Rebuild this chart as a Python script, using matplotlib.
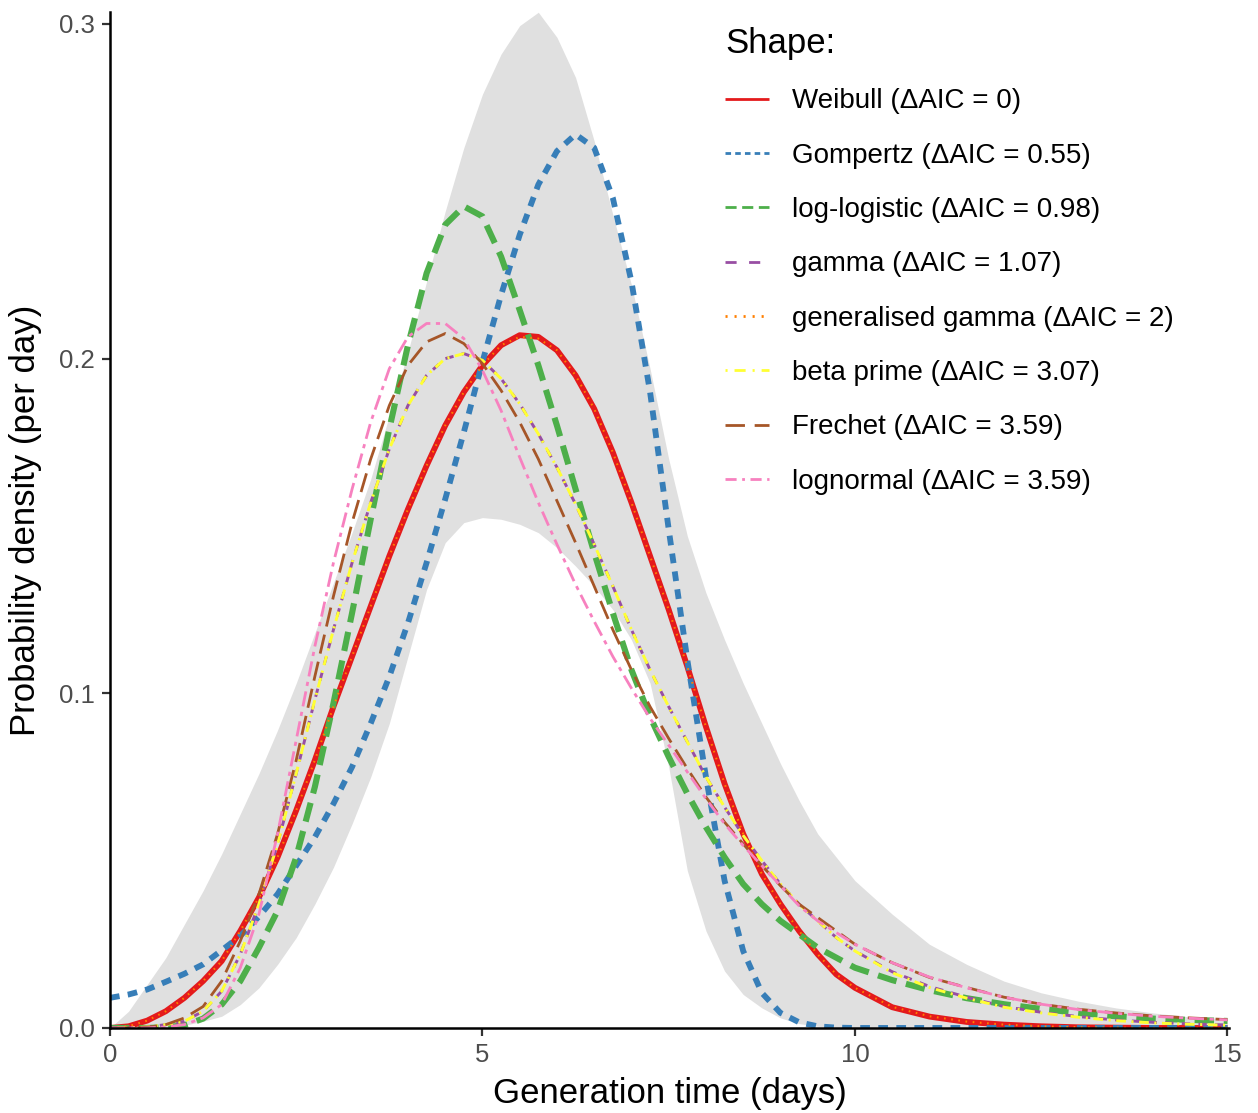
import matplotlib
matplotlib.use("Agg")
import matplotlib.pyplot as plt
from matplotlib.lines import Line2D
import numpy as np

plt.rcParams['font.family'] = ['Liberation Sans', 'DejaVu Sans']
plt.rcParams['lines.scale_dashes'] = False

# generation time grid (days)
t = [0, 0.25, 0.5, 0.75, 1, 1.25, 1.5, 1.75, 2, 2.25, 2.5, 2.75, 3, 3.25, 3.5, 3.75,
     4, 4.25, 4.5, 4.75, 5, 5.25, 5.5, 5.75, 6, 6.25, 6.5, 6.75, 7, 7.25, 7.5, 7.75,
     8, 8.25, 8.5, 8.75, 9, 9.25, 9.5, 9.75, 10, 10.5, 11, 11.5, 12, 12.5, 13, 13.5,
     14, 14.5, 15]

weibull = [0, 0.0005, 0.0022, 0.005, 0.009, 0.014, 0.020, 0.029, 0.039, 0.051, 0.065, 0.080,
           0.096, 0.111, 0.126, 0.141, 0.155, 0.168, 0.180, 0.190, 0.198, 0.204, 0.207, 0.2065,
           0.2025, 0.195, 0.185, 0.172, 0.157, 0.141, 0.125, 0.108, 0.090, 0.073, 0.058, 0.046,
           0.037, 0.029, 0.022, 0.016, 0.012, 0.0062, 0.0034, 0.0018, 0.001, 0.0005, 0.0002,
           0.0001, 0, 0, 0]
gompertz = [0.009, 0.010, 0.0115, 0.0138, 0.0162, 0.019, 0.0232, 0.0275, 0.0333, 0.040, 0.0485,
            0.057, 0.067, 0.078, 0.091, 0.105, 0.121, 0.139, 0.158, 0.178, 0.199, 0.219, 0.237,
            0.252, 0.262, 0.267, 0.263, 0.248, 0.223, 0.190, 0.149, 0.110, 0.075, 0.044, 0.023,
            0.0105, 0.0045, 0.0017, 0.0005, 0.0001, 0, 0, 0, 0, 0, 0, 0, 0, 0, 0, 0]
loglogistic = [0, 0, 0, 0.0002, 0.0008, 0.0028, 0.007, 0.014, 0.024, 0.035, 0.051, 0.072, 0.097,
               0.124, 0.152, 0.179, 0.204, 0.2255, 0.240, 0.2455, 0.2425, 0.2305, 0.2145, 0.198,
               0.180, 0.161, 0.142, 0.124, 0.107, 0.093, 0.081, 0.070, 0.060, 0.051, 0.043, 0.037,
               0.032, 0.028, 0.024, 0.021, 0.018, 0.0143, 0.0113, 0.0089, 0.0071, 0.0057, 0.0045,
               0.0035, 0.0028, 0.0024, 0.0021]
gamma = [0, 0, 0.0003, 0.001, 0.002, 0.005, 0.011, 0.022, 0.037, 0.055, 0.076, 0.098, 0.119,
         0.139, 0.157, 0.173, 0.186, 0.195, 0.2, 0.2015, 0.1995, 0.194, 0.1865, 0.1775, 0.1675,
         0.1565, 0.1445, 0.132, 0.119, 0.107, 0.096, 0.0855, 0.075, 0.066, 0.0575, 0.050, 0.043,
         0.037, 0.032, 0.027, 0.023, 0.0168, 0.0124, 0.0092, 0.0064, 0.0047, 0.0034, 0.0024,
         0.0017, 0.0012, 0.0009]
gengamma = [0, 0.0005, 0.0022, 0.005, 0.009, 0.014, 0.020, 0.029, 0.039, 0.051, 0.065, 0.080,
            0.096, 0.111, 0.126, 0.141, 0.155, 0.168, 0.180, 0.190, 0.198, 0.204, 0.2065, 0.206,
            0.2025, 0.195, 0.185, 0.172, 0.157, 0.141, 0.125, 0.108, 0.090, 0.073, 0.058, 0.046,
            0.037, 0.029, 0.022, 0.016, 0.012, 0.0063, 0.0035, 0.0019, 0.001, 0.0005, 0.0002,
            0.0001, 0, 0, 0]
betaprime = [0, 0, 0.0003, 0.001, 0.002, 0.005, 0.011, 0.022, 0.037, 0.055, 0.076, 0.098, 0.119,
             0.139, 0.157, 0.173, 0.186, 0.195, 0.2, 0.2015, 0.1995, 0.194, 0.1865, 0.1775,
             0.1675, 0.1565, 0.1445, 0.132, 0.119, 0.107, 0.096, 0.0855, 0.075, 0.066, 0.0575,
             0.050, 0.043, 0.037, 0.032, 0.027, 0.023, 0.0165, 0.0121, 0.0089, 0.0062, 0.0045,
             0.0032, 0.0022, 0.0015, 0.0011, 0.0008]
frechet = [0, 0, 0.0002, 0.001, 0.003, 0.0064, 0.014, 0.026, 0.040, 0.058, 0.080, 0.105, 0.129,
           0.151, 0.170, 0.186, 0.198, 0.205, 0.2075, 0.2045, 0.1985, 0.1905, 0.181, 0.170, 0.1575,
           0.145, 0.132, 0.119, 0.107, 0.096, 0.0865, 0.0775, 0.069, 0.0615, 0.055, 0.0485, 0.0425,
           0.037, 0.033, 0.029, 0.025, 0.0195, 0.0151, 0.0121, 0.0092, 0.0071, 0.0056, 0.0045,
           0.0036, 0.003, 0.0025]
lognormal = [0, 0, 0, 0.0003, 0.001, 0.003, 0.007, 0.018, 0.034, 0.058, 0.086, 0.114, 0.139,
             0.161, 0.181, 0.197, 0.2065, 0.2105, 0.2105, 0.206, 0.1965, 0.1845, 0.1705, 0.157,
             0.1445, 0.1325, 0.1215, 0.111, 0.1015, 0.0925, 0.0845, 0.0765, 0.0685, 0.061, 0.0545,
             0.0485, 0.0425, 0.0365, 0.032, 0.0285, 0.025, 0.0195, 0.0152, 0.012, 0.0092, 0.0071,
             0.0055, 0.0044, 0.0035, 0.0029, 0.0024]

# uncertainty band
band_upper = [0, 0.005, 0.013, 0.021, 0.031, 0.041, 0.052, 0.064, 0.076, 0.089, 0.103, 0.118,
              0.133, 0.148, 0.164, 0.183, 0.202, 0.223, 0.244, 0.263, 0.279, 0.291, 0.2995, 0.3035,
              0.296, 0.284, 0.265, 0.243, 0.222, 0.197, 0.170, 0.147, 0.130, 0.116, 0.103, 0.091,
              0.079, 0.068, 0.058, 0.051, 0.044, 0.034, 0.025, 0.019, 0.014, 0.0105, 0.008, 0.006,
              0.0045, 0.0033, 0.0024]
band_lower = [0, 0, 0, 0, 0.0008, 0.002, 0.0035, 0.007, 0.012, 0.019, 0.027, 0.037, 0.048,
              0.061, 0.075, 0.091, 0.111, 0.131, 0.145, 0.151, 0.1525, 0.152, 0.1505, 0.148,
              0.1435, 0.138, 0.132, 0.125, 0.116, 0.103, 0.078, 0.047, 0.029, 0.017, 0.010, 0.006,
              0.003, 0.0013, 0.0005, 0.0002, 0, 0, 0, 0, 0, 0, 0, 0, 0, 0, 0]

labels = ['Weibull (ΔAIC = 0)', 'Gompertz (ΔAIC = 0.55)', 'log-logistic (ΔAIC = 0.98)',
          'gamma (ΔAIC = 1.07)', 'generalised gamma (ΔAIC = 2)', 'beta prime (ΔAIC = 3.07)',
          'Frechet (ΔAIC = 3.59)', 'lognormal (ΔAIC = 3.59)']
series = [weibull, gompertz, loglogistic, gamma, gengamma, betaprime, frechet, lognormal]
colors = ['#E41A1C', '#377EB8', '#4DAF4A', '#984EA3', '#FF7F00', '#FFFF33', '#A65628', '#F781BF']
widths = [4.2, 4.2, 4.4, 2.1, 1.5, 2.1, 2.0, 2.0]
dashes = [None, (7, 6), (14, 7), (6, 6), (1.2, 4), (1.5, 4, 7, 4), (14, 6), (11, 4, 3, 4)]
key_dashes = [None, (4, 3), (8, 4), (8, 9), (1.5, 5), (1.5, 5, 8, 5), (14, 7), (8, 4, 2, 4)]

fig = plt.figure(figsize=(12.58, 11.13), dpi=100)
ax = fig.add_axes([0.0874, 0.0764, 0.8895, 0.9129])

ax.fill_between(t, band_lower, band_upper, color='#E0E0E0', lw=0)

for y, c, w, d in zip(series, colors, widths, dashes):
    line, = ax.plot(t, y, color=c, lw=w, solid_capstyle='butt', dash_capstyle='butt',
                    solid_joinstyle='round')
    if d is not None:
        line.set_dashes(d)

ax.set_xlim(0, 15.02)
ax.set_ylim(0, 0.3036)
ax.set_xticks([0, 5, 10, 15])
ax.set_yticks([0, 0.1, 0.2, 0.3])
ax.set_yticklabels(['0.0', '0.1', '0.2', '0.3'])
ax.tick_params(length=6, width=1.6, color='#333333', labelcolor='#4D4D4D', labelsize=18.5, pad=5)
for s in ['top', 'right']:
    ax.spines[s].set_visible(False)
for s in ['left', 'bottom']:
    ax.spines[s].set_linewidth(1.8)
ax.set_xlabel('Generation time (days)', fontsize=25, labelpad=7)
ax.set_ylabel('Probability density (per day)', fontsize=25, labelpad=12)

handles = []
for c, d in zip(colors, key_dashes):
    h = Line2D([0], [0], color=c, lw=2.0, solid_capstyle='butt', dash_capstyle='butt')
    if d is not None:
        h.set_dashes(d)
    handles.append(h)

leg = ax.legend(handles, labels, title='Shape:', loc='upper left',
                bbox_to_anchor=(725 / 1258, 1 - 27 / 1113), bbox_transform=fig.transFigure,
                frameon=False, fontsize=20, title_fontsize=25, handlelength=1.6,
                handletextpad=0.8, labelspacing=1.02, borderpad=0, borderaxespad=0,
                alignment='left')

fig.savefig('out.png', dpi=100)
